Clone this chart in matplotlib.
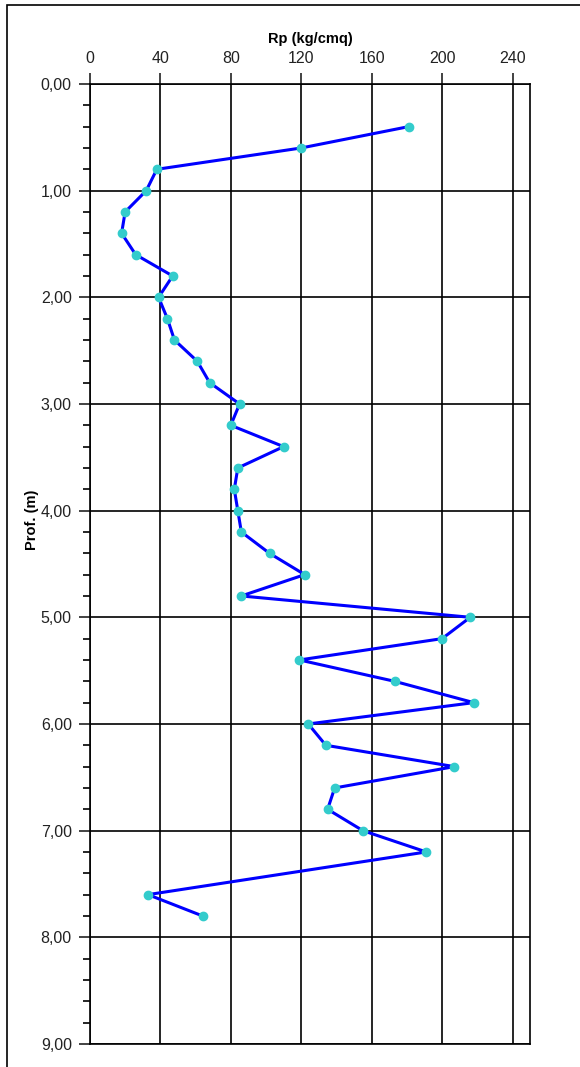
import matplotlib.pyplot as plt
from matplotlib.ticker import MultipleLocator, FuncFormatter
from matplotlib.patches import Rectangle

plt.rcParams["font.family"] = ["Liberation Sans", "DejaVu Sans"]

depth = [0.4, 0.6, 0.8, 1.0, 1.2, 1.4, 1.6, 1.8, 2.0, 2.2, 2.4, 2.6, 2.8, 3.0,
         3.2, 3.4, 3.6, 3.8, 4.0, 4.2, 4.4, 4.6, 4.8, 5.0, 5.2, 5.4, 5.6, 5.8,
         6.0, 6.2, 6.4, 6.6, 6.8, 7.0, 7.2, 7.6, 7.8]
rp = [181, 120, 38, 32, 20, 18, 26, 47, 39, 44, 48, 61, 68, 85,
      80, 110, 84, 82, 84, 86, 102, 122, 86, 216, 200, 119, 173, 218,
      124, 134, 207, 139, 135, 155, 191, 33, 64]

fig = plt.figure(figsize=(5.8, 10.67), dpi=100)
fig.patches.append(Rectangle((7 / 580, -0.01), 1.0, 1 - 5 / 1067 + 0.01,
                             transform=fig.transFigure, fill=False,
                             edgecolor="black", linewidth=1.2))
ax = fig.add_axes([0.155, 0.0216, 0.759, 0.8997])

ax.plot(rp, depth, color="#0000ff", linewidth=2.2, marker="o",
        markersize=6, markerfacecolor="#33cccc", markeredgecolor="#33cccc")

ax.set_xlim(0, 250)
ax.set_ylim(9, 0)
ax.xaxis.tick_top()
ax.xaxis.set_label_position("top")
ax.set_xticks([0, 40, 80, 120, 160, 200, 240])
ax.yaxis.set_major_locator(MultipleLocator(1))
ax.yaxis.set_minor_locator(MultipleLocator(0.2))
ax.yaxis.set_major_formatter(FuncFormatter(lambda v, p: f"{v:.2f}".replace(".", ",")))
ax.grid(True, which="major", color="black", linewidth=1.2)
ax.tick_params(axis="both", which="major", length=8, width=1.2, labelsize=11.5,
               colors="#222222", pad=5)
ax.tick_params(axis="y", which="minor", length=5, width=1.2)
for s in ax.spines.values():
    s.set_linewidth(1.2)

ax.set_xlabel("Rp (kg/cmq)", fontsize=10.5, fontweight="bold", labelpad=6)
ax.set_ylabel("Prof. (m)", fontsize=10.5, fontweight="bold")
ax.yaxis.set_label_coords(-0.115, 0.546)

fig.savefig("out.png", dpi=100)
